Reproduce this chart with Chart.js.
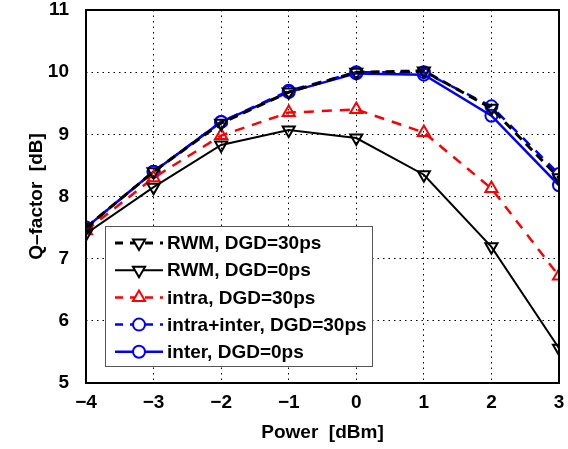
<!DOCTYPE html>
<html>
<head>
<meta charset="utf-8">
<script src="https://cdn.jsdelivr.net/npm/chart.js@4.4.1/dist/chart.umd.min.js"></script>
<style>
  html, body { margin: 0; background: #fff; }
  canvas { display: block; }
</style>
</head>
<body>
<canvas id="chart" width="568" height="449"></canvas>
<script>
// x values (Power, dBm) and one array per curve (Q-factor, dB)
const POWER_DBM = [-4, -3, -2, -1, 0, 1, 2, 3];
const RWM_DGD30 = [7.5, 8.4, 9.18, 9.68, 10.0, 10.02, 9.42, 8.3];
const RWM_DGD0 = [7.4, 8.15, 8.83, 9.07, 8.94, 8.35, 7.19, 5.56];
const INTRA_DGD30 = [7.45, 8.3, 8.98, 9.35, 9.4, 9.03, 8.13, 6.72];
const INTRA_INTER_DGD30 = [7.5, 8.4, 9.2, 9.7, 10.0, 10.0, 9.45, 8.36];
const INTER_DGD0 = [7.5, 8.4, 9.2, 9.68, 9.98, 9.96, 9.3, 8.18];

const SERIES_LABELS = [
  "RWM, DGD=30ps",
  "RWM, DGD=0ps",
  "intra, DGD=30ps",
  "intra+inter, DGD=30ps",
  "inter, DGD=0ps",
];

const X_RANGE = [-4, 3];
const Y_RANGE = [5, 11];
const X_TITLE = "Power  [dBm]";
const Y_TITLE = "Q\u2013factor  [dB]";

const FONT = '"Liberation Sans", Arial, Helvetica, sans-serif';

function pts(ys) {
  return POWER_DBM.map((x, i) => ({ x, y: ys[i] }));
}

function series(label, ys, color, width, dash, marker) {
  return {
    label,
    data: pts(ys),
    borderColor: color,
    borderWidth: width,
    borderDash: dash,
    pointStyle: marker === "down" ? "triangle" : marker,
    rotation: marker === "down" ? 180 : 0,
    pointRadius: marker === "circle" ? 6 : 7,
    pointBorderWidth: 2,
    pointBorderColor: color,
    pointBackgroundColor: "transparent",
    fill: false,
    tension: 0,
  };
}

const datasets = [
  series(SERIES_LABELS[0], RWM_DGD30, "#000000", 3, [9, 6], "down"),
  series(SERIES_LABELS[1], RWM_DGD0, "#000000", 2, [], "down"),
  series(SERIES_LABELS[2], INTRA_DGD30, "#ff0000", 2.5, [10, 8], "triangle"),
  series(SERIES_LABELS[3], INTRA_INTER_DGD30, "#0000ff", 2.5, [10, 8], "circle"),
  series(SERIES_LABELS[4], INTER_DGD0, "#0000ff", 2.5, [], "circle"),
];

// frame around the plot area plus the MATLAB-style legend box
const framePlugin = {
  id: "frame",
  afterDatasetsDraw(chart) {
    const { ctx, chartArea: ca } = chart;
    ctx.save();
    ctx.strokeStyle = "#000";
    ctx.lineWidth = 2;
    ctx.setLineDash([]);
    ctx.strokeRect(ca.left, ca.top, ca.right - ca.left, ca.bottom - ca.top);

    // legend
    const lx = ca.left + 19, w = 267, rowH = 27.2;
    const h = 140;
    const ly = ca.bottom - 17 - h;
    ctx.fillStyle = "#fff";
    ctx.fillRect(lx, ly, w, h);
    ctx.strokeStyle = "#555";
    ctx.lineWidth = 1;
    ctx.strokeRect(lx + 0.5, ly + 0.5, w, h);

    ctx.font = "bold 19px " + FONT;
    ctx.textBaseline = "middle";
    ctx.textAlign = "left";
    chart.data.datasets.forEach((ds, i) => {
      const cy = ly + 17 + i * rowH;
      const x1 = lx + 10, x2 = lx + 58, mx = (x1 + x2) / 2;
      ctx.save();
      ctx.strokeStyle = ds.borderColor;
      ctx.lineWidth = ds.borderWidth;
      ctx.setLineDash(ds.borderDash.length ? [8, 7] : []);
      ctx.beginPath();
      ctx.moveTo(x1, cy);
      ctx.lineTo(x2, cy);
      ctx.stroke();
      ctx.setLineDash([]);
      ctx.fillStyle = "#fff";
      ctx.strokeStyle = ds.pointBorderColor;
      ctx.lineWidth = ds.pointBorderWidth;
      Chart.helpers.drawPoint(ctx, {
        pointStyle: ds.pointStyle,
        rotation: ds.rotation,
        radius: ds.pointRadius,
        borderWidth: ds.pointBorderWidth,
      }, mx, cy);
      ctx.restore();
      ctx.fillStyle = "#000";
      ctx.fillText(ds.label, lx + 62, cy + 1);
    });
    ctx.restore();
  },
};

new Chart(document.getElementById("chart"), {
  type: "line",
  data: { datasets },
  plugins: [framePlugin],
  options: {
    responsive: false,
    animation: false,
    devicePixelRatio: 1,
    layout: { padding: { top: 10, right: 7, left: 0, bottom: 0 } },
    plugins: { legend: { display: false }, tooltip: { enabled: false } },
    scales: {
      x: {
        type: "linear",
        min: X_RANGE[0],
        max: X_RANGE[1],
        afterFit(s) {
          s.height = 66;
          s.paddingLeft = 0;
          s.paddingRight = 0;
        },
        ticks: {
          stepSize: 1,
          padding: 8,
          color: "#000",
          font: { family: FONT, size: 19, weight: "bold" },
          callback: (v) => String(v).replace("-", "\u2212"),
        },
        grid: { color: "#000", lineWidth: 1, drawTicks: false },
        border: { display: false, dash: [1.5, 4] },
        title: {
          display: true,
          text: X_TITLE,
          color: "#000",
          font: { family: FONT, size: 19, weight: "bold" },
          padding: { top: 0, bottom: 5 },
        },
      },
      y: {
        min: Y_RANGE[0],
        max: Y_RANGE[1],
        afterFit(s) {
          s.width = 86;
          s.paddingTop = 0;
          s.paddingBottom = 0;
        },
        ticks: {
          stepSize: 1,
          padding: 17,
          color: "#000",
          font: { family: FONT, size: 19, weight: "bold" },
        },
        grid: { color: "#000", lineWidth: 1, drawTicks: false },
        border: { display: false, dash: [1.5, 4] },
        title: {
          display: true,
          text: Y_TITLE,
          color: "#000",
          font: { family: FONT, size: 19, weight: "bold" },
          padding: { top: 25, bottom: 0 },
        },
      },
    },
  },
});
</script>
</body>
</html>
